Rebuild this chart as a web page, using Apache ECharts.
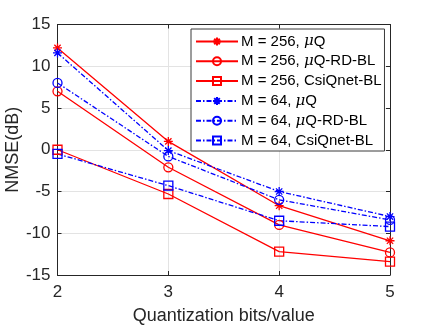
<!DOCTYPE html>
<html>
<head>
<meta charset="utf-8">
<script src="https://cdn.jsdelivr.net/npm/echarts@6/dist/echarts.min.js"></script>
<style>
html, body { margin: 0; padding: 0; background: #fff; }
#main { width: 432px; height: 327px; }
</style>
</head>
<body>
<div id="main"></div>
<script>
/** 数据 */
var bits = [2, 3, 4, 5] // 量化比特数
var seriesNames = [
	'M = 256, {i|μ}Q',
	'M = 256, {i|μ}Q-RD-BL',
	'M = 256, CsiQnet-BL',
	'M = 64, {i|μ}Q',
	'M = 64, {i|μ}Q-RD-BL',
	'M = 64, CsiQnet-BL'
]
var m256_uQ = [12.2, 1.0, -6.7, -10.9]
var m256_uQ_RD = [7.0, -2.1, -9.0, -12.3]
var m256_csi = [0.0, -5.3, -12.2, -13.4]
var m64_uQ = [11.6, -0.1, -5.0, -8.0]
var m64_uQ_RD = [8.0, -0.8, -6.0, -8.4]
var m64_csi = [-0.5, -4.3, -8.5, -9.2]
var yTicks = [-15, -10, -5, 0, 5, 10, 15]

/** 样式 */
var RED = '#ff0000'
var BLUE = '#0000ff'
var FONT = 'Liberation Sans'
// MATLAB 风格星号 (+ 与 x 叠加)
var STAR = 'path://M0,-5L0,5M-5,0L5,0M-3.5,-3.5L3.5,3.5M-3.5,3.5L3.5,-3.5'

var makeSeries = function(name, values, color, symbol, dashed) {
	return {
		name: name,
		type: 'line',
		data: values.map(function(v, i) { return [bits[i], v] }),
		symbol: symbol,
		symbolSize: 9,
		symbolKeepAspect: true,
		showAllSymbol: true,
		lineStyle: {
			color: color,
			width: 1.3,
			type: dashed ? [5, 2, 1.5, 2] : 'solid'
		},
		itemStyle: {
			color: 'rgba(255,255,255,0)',
			borderColor: color,
			borderWidth: 1.3
		},
		emphasis: { disabled: true },
		animation: false
	}
}

var axisBase = function() {
	return {
		nameMoveOverlap: false,
		axisLine: { show: true, onZero: false, lineStyle: { color: '#262626', width: 1 } },
		axisTick: { show: true, inside: true, length: 4, lineStyle: { color: '#262626' } },
		axisLabel: { color: '#262626', fontFamily: FONT, fontSize: 17 },
		splitLine: { show: true, lineStyle: { color: '#e3e3e3', width: 1 } }
	}
}

var xMain = axisBase()
Object.assign(xMain, {
	type: 'value', min: 2, max: 5, interval: 1, position: 'bottom',
	name: 'Quantization bits/value', nameLocation: 'middle', nameGap: 32,
	nameTextStyle: { color: '#262626', fontFamily: FONT, fontSize: 18 }
})
xMain.axisLabel.margin = 9
var xTop = axisBase()
Object.assign(xTop, { type: 'value', min: 2, max: 5, interval: 1, position: 'top' })
xTop.axisLabel = { show: false }
xTop.splitLine = { show: false }

var yMain = axisBase()
Object.assign(yMain, {
	type: 'value', min: yTicks[0], max: yTicks[yTicks.length - 1], interval: 5, position: 'left',
	name: 'NMSE(dB)', nameLocation: 'middle', nameGap: 35,
	nameTextStyle: { color: '#262626', fontFamily: FONT, fontSize: 18 }
})
yMain.axisLabel.margin = 7
var yRight = axisBase()
Object.assign(yRight, { type: 'value', min: -15, max: 15, interval: 5, position: 'right' })
yRight.axisLabel = { show: false }
yRight.splitLine = { show: false }

var option = {
	backgroundColor: '#fff',
	animation: false,
	grid: { left: 57.5, right: 42, top: 24.5, bottom: 52, containLabel: false, outerBoundsMode: 'none' },
	xAxis: [xMain, xTop],
	yAxis: [yMain, yRight],
	legend: {
		orient: 'vertical',
		left: 191, top: 29,
		padding: [5, 3, 3, 4],
		itemWidth: 42,
		itemHeight: 10,
		itemGap: 4.8,
		backgroundColor: '#fff',
		borderColor: '#3a3a3a',
		borderWidth: 1,
		textStyle: {
			color: '#000', fontFamily: FONT, fontSize: 15, lineHeight: 15, padding: [0, 0, 0, -2],
			rich: { i: { fontStyle: 'italic', fontFamily: 'DejaVu Serif', fontSize: 15, lineHeight: 15 } }
		},
		data: seriesNames
	},
	series: [
		makeSeries(seriesNames[0], m256_uQ, RED, STAR, false),
		makeSeries(seriesNames[1], m256_uQ_RD, RED, 'circle', false),
		makeSeries(seriesNames[2], m256_csi, RED, 'rect', false),
		makeSeries(seriesNames[3], m64_uQ, BLUE, STAR, true),
		makeSeries(seriesNames[4], m64_uQ_RD, BLUE, 'circle', true),
		makeSeries(seriesNames[5], m64_csi, BLUE, 'rect', true)
	]
}

var myChart = echarts.init(document.getElementById('main'), null, { renderer: 'canvas' })
myChart.setOption(option)
</script>
</body>
</html>
